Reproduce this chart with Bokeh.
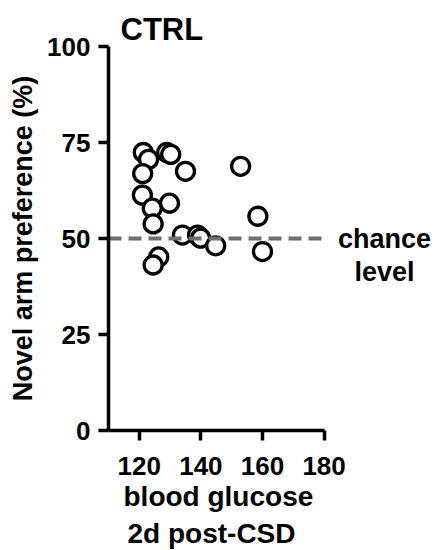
from bokeh.plotting import figure
from bokeh.models import Label, Range1d, FixedTicker, Title
from bokeh.embed import file_html
from bokeh.resources import INLINE

# data
glucose = [121.3, 123.0, 128.9, 130.2, 135.0, 121.1, 152.9, 121.0, 129.8, 124.2,
           124.5, 158.5, 134.0, 138.9, 139.9, 144.8, 160.0, 126.3, 124.5]
preference = [72.4, 70.6, 72.4, 71.9, 67.5, 66.9, 68.8, 61.3, 59.2, 57.9,
              53.8, 55.8, 50.9, 50.9, 50.1, 48.1, 46.6, 45.2, 43.1]
x_ticks = [120, 140, 160, 180]
y_ticks = [0, 25, 50, 75, 100]
CHANCE = 50
title_text = "CTRL"
x_label_lines = ["blood glucose", "2d post-CSD"]
y_label = "Novel arm preference (%)"
chance_lines = ["chance", "level"]

X_AXIS = (110, 180)        # drawn extent of the x axis
X_VIEW_END = 216.5         # frame extends right to hold the "chance level" note
Y_AXIS = (0, 100)

FONT = "Liberation Sans"

p = figure(width=436, height=550,
           x_range=Range1d(X_AXIS[0], X_VIEW_END), y_range=Range1d(*Y_AXIS),
           output_backend="svg", toolbar_location=None,
           min_border_left=108, min_border_right=0,
           min_border_top=46, min_border_bottom=119)
p.outline_line_color = None
p.grid.visible = False
p.background_fill_color = "white"

for ax in (p.xaxis[0], p.yaxis[0]):
    ax.axis_line_width = 3.5
    ax.axis_line_color = "black"
    ax.major_tick_line_width = 3.5
    ax.major_tick_line_color = "black"
    ax.major_tick_out = 10
    ax.major_tick_in = 0
    ax.minor_tick_line_color = None
    ax.major_label_text_font = FONT
    ax.major_label_text_font_style = "bold"
    ax.major_label_text_font_size = "26px"
    ax.major_label_text_color = "black"
    ax.axis_label_text_font = FONT
    ax.axis_label_text_font_style = "bold"
    ax.axis_label_text_font_size = "27px"
    ax.axis_label_text_color = "black"

p.xaxis.ticker = FixedTicker(ticks=x_ticks)
p.yaxis.ticker = FixedTicker(ticks=y_ticks)
p.xaxis.bounds = X_AXIS
p.yaxis.bounds = Y_AXIS
p.xaxis.major_label_standoff = 16
p.yaxis.major_label_standoff = 8
p.yaxis.axis_label = y_label
p.yaxis.axis_label_standoff = 6

# title
p.title.text = title_text
p.title.align = "left"
p.title.offset = 12
p.title.standoff = 0
p.title.text_font = FONT
p.title.text_font_style = "bold"
p.title.text_font_size = "31px"
p.title.text_color = "black"

# x-axis label, two centred lines
for txt, off, gap in zip(x_label_lines, [15, 19], [7, 0]):
    p.add_layout(Title(text=txt, align="left", offset=off, standoff=gap,
                       vertical_align="top", text_line_height=0.85,
                       text_font=FONT, text_font_style="bold",
                       text_font_size="28px", text_color="black"), "below")

p.scatter(glucose, preference, marker="circle", size=18,
          fill_color="white", line_color="black", line_width=3.3)

# chance level line over the drawn x extent
p.line(list(X_AXIS), [CHANCE, CHANCE], line_color="#6e6e6e",
       line_width=4, line_dash="13 7")

for txt, yy in zip(chance_lines, [50.0, 41.4]):
    p.add_layout(Label(x=199.6, y=yy, text=txt, text_font=FONT,
                       text_font_style="bold", text_font_size="27px",
                       text_align="center", text_baseline="alphabetic",
                       text_color="black"))

open("out.html", "w").write(file_html(p, INLINE))
